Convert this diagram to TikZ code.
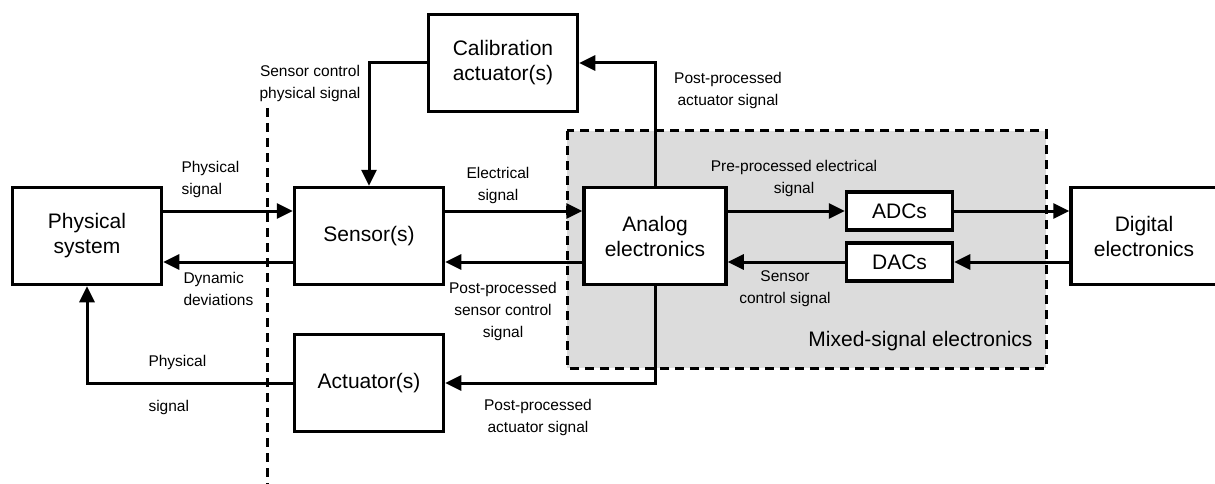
\documentclass[tikz,border=0pt]{standalone}
\usepackage{fontspec}
\setmainfont{Liberation Sans}
\usepackage{xcolor}
\usetikzlibrary{arrows.meta, positioning, calc}
\definecolor{mixedgray}{RGB}{220,220,220}

\begin{document}
\begin{tikzpicture}[x=1pt, y=-1pt, >={Triangle[length=16pt, width=15pt]}, line width=3pt]
  \tikzstyle{block} = [draw, line width=3.5pt, fill=white, align=center, minimum width=149pt, minimum height=97pt, font=\fontsize{21}{25}\selectfont]
  \tikzstyle{converter} = [block, minimum width=106pt, minimum height=38pt]
  \tikzstyle{small} = [inner sep=0pt, align=center, font=\fontsize{15.5}{22}\selectfont]
  \tikzstyle{dashline} = [line width=3pt, dash pattern=on 9pt off 6pt]

  \useasboundingbox (0,0) rectangle (1215,484);

  % mixed-signal area and boundary line
  \draw[dashline, fill=mixedgray] (567,131) rectangle (1046,368);
  \node[anchor=east, inner sep=0pt, font=\fontsize{21}{25}\selectfont] (Mixed) at (1034,341) {Mixed-signal electronics};
  \coordinate (LineTop) at (267,108);
  \coordinate (LineBottom) at (267,486);
  \draw[dashline] (LineTop) -- (LineBottom);

  % blocks
  \node[block] (Phys) at (87,236) {Physical\\system};
  \node[block] (Sensor) at (369,236) {Sensor(s)};
  \node[block] (Calib) at (503,63) {Calibration\\actuator(s)};
  \node[block, minimum width=142pt] (Analog) at (655,236) {Analog\\electronics};
  \node[converter] (ADC) at (899.5,211) {ADCs};
  \node[converter] (DAC) at (899.5,262) {DACs};
  \node[block, minimum width=146pt] (Digital) at (1144,236) {Digital\\electronics};
  \node[block] (Act) at (369,383) {Actuator(s)};

  % connections
  \path[->]
    ([yshift=25pt]Phys.east) edge ([yshift=25pt]Sensor.west)
    ([yshift=-26pt]Sensor.west) edge ([yshift=-26pt]Phys.east)
    ([yshift=25pt]Sensor.east) edge ([yshift=25pt]Analog.west)
    ([yshift=-26pt]Analog.west) edge ([yshift=-26pt]Sensor.east)
    ([yshift=25pt]Analog.east) edge (ADC.west)
    (ADC.east) edge ([yshift=25pt]Digital.west)
    ([yshift=-26pt]Digital.west) edge (DAC.east)
    (DAC.west) edge ([yshift=-26pt]Analog.east);
  \draw[->] (Analog.north) |- (Calib.east);
  \draw[->] (Calib.west) -| (Sensor.north);
  \draw[->] (Analog.south) |- (Act.east);
  \draw[->] (Act.west) -| (Phys.south);

  % signal labels
  \node[small, anchor=west, align=left] (PhysIn) at (180,179) {Physical\\signal};
  \node[small, anchor=west, align=left] (Deviations) at (182,289) {Dynamic\\deviations};
  \node[small] (SensCtrl) at (310,83) {Sensor control\\physical signal};
  \node[small] (Electrical) at (498,185) {Electrical\\signal};
  \node[small] (PostSensor) at (503,311) {Post-processed\\sensor control\\signal};
  \node[small] (PostCalib) at (728,90) {Post-processed\\actuator signal};
  \node[small] (PreProc) at (794,178.5) {Pre-processed electrical\\signal};
  \node[small] (DacCtrl) at (785,289) {Sensor\\control signal};
  \node[small] (PostAct) at (538,417) {Post-processed\\actuator signal};
  \node[small, anchor=west, align=left] (PhysOut) at (147,384.5) {Physical\\[23pt]signal};
\end{tikzpicture}
\end{document}
